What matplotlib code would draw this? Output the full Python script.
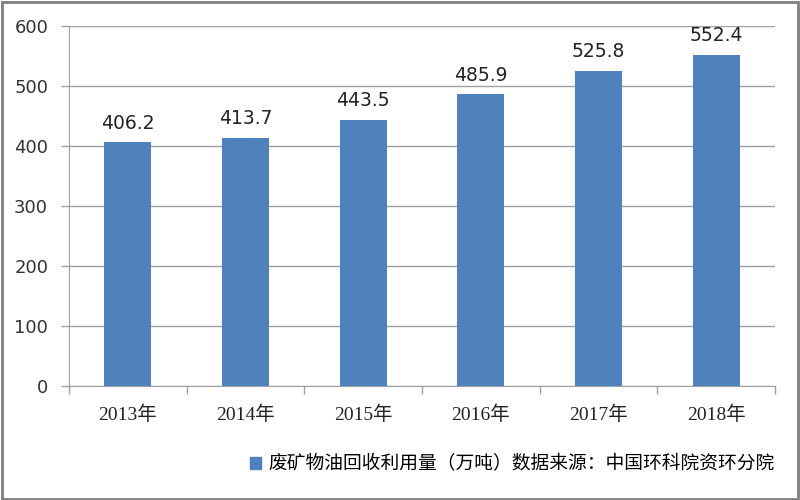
import matplotlib
matplotlib.use("Agg")
import matplotlib.pyplot as plt
from matplotlib.patches import Rectangle
import numpy as np

plt.rcParams['font.family'] = ['Noto Sans CJK SC', 'DejaVu Sans']

years = ["2013年", "2014年", "2015年", "2016年", "2017年", "2018年"]
values = [406.2, 413.7, 443.5, 485.9, 525.8, 552.4]
yticks = [0, 100, 200, 300, 400, 500, 600]
legend_label = "废矿物油回收利用量（万吨）数据来源：中国环科院资环分院"

bar_color = "#4F81BD"
grid_color = "#A0A0A0"

fig = plt.figure(figsize=(8, 5), dpi=100)
fig.patch.set_facecolor("white")
ax = fig.add_axes([0.08625, 0.228, 0.8825, 0.72])

x = np.arange(len(years))
ax.bar(x, values, width=0.4, color=bar_color, zorder=3)

for xi, v in zip(x, values):
    ax.text(xi, v + 16, f"{v:.1f}", ha="center", va="bottom", fontsize=13.5, color="#222222",
            family=["DejaVu Sans"])

ax.set_xlim(-0.5, len(years) - 0.5)
ax.set_ylim(0, 600)
ax.set_yticks(yticks)
ax.set_yticklabels([str(t) for t in yticks], fontsize=13, color="#333333",
                   family=["DejaVu Sans"])
ax.yaxis.grid(True, color=grid_color, linewidth=1.0, zorder=0)

ax.set_xticks(x)
ax.set_xticklabels(years, fontsize=14, color="#222222",
                   family=["Liberation Serif", "Noto Sans CJK SC"])
ax.tick_params(axis="x", which="major", length=0, pad=14)
ax.set_xticks(np.arange(-0.5, len(years)), minor=True)
ax.tick_params(axis="x", which="minor", length=6, color=grid_color, width=1.0)
ax.tick_params(axis="y", length=6, color=grid_color, width=1.0, pad=9)

for s in ["top", "right"]:
    ax.spines[s].set_visible(False)
ax.spines["left"].set_color(grid_color)
ax.spines["bottom"].set_color(grid_color)

# legend
leg_handle = Rectangle((0, 0), 1, 1, color=bar_color)
fig.legend([leg_handle], [legend_label], loc="center left", bbox_to_anchor=(0.312, 0.072),
           frameon=False, fontsize=13.5, handlelength=0.6, handleheight=0.6, handletextpad=0.4,
           borderpad=0, borderaxespad=0)

# outer border
fig.add_artist(Rectangle((0.002, 0.003), 0.995, 0.993, transform=fig.transFigure,
                         fill=False, edgecolor="#7F7F7F", linewidth=2))

fig.savefig("out.png", dpi=100, facecolor="white")
